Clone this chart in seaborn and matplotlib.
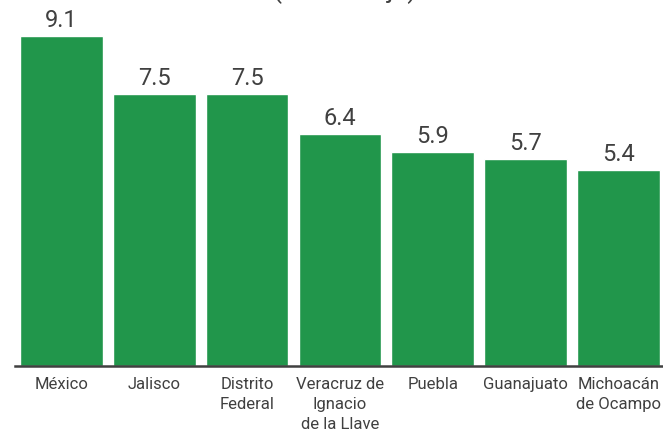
import matplotlib
matplotlib.use("Agg")
import matplotlib.pyplot as plt
import seaborn as sns
import pandas as pd

estados = ["México", "Jalisco", "Distrito\nFederal", "Veracruz de\nIgnacio\nde la Llave",
           "Puebla", "Guanajuato", "Michoacán\nde Ocampo"]
valores = [9.1, 7.5, 7.5, 6.4, 5.9, 5.7, 5.4]
titulo = "(Porcentaje)"

df = pd.DataFrame({"estado": estados, "valor": valores})

sns.set_theme(style="white")
plt.rcParams['font.family'] = ['Roboto', 'DejaVu Sans']

fig = plt.figure(figsize=(6.63, 4.4), dpi=100)
ax = fig.add_axes([15 / 663, 74 / 440, 648 / 663, 366 / 440])

sns.barplot(data=df, x="estado", y="valor", color="#21964b", saturation=1,
            width=0.89, ax=ax)

for i, v in enumerate(valores):
    ax.text(i, v + 0.24, f"{v:.1f}", ha="center", va="baseline",
            fontsize=17, color="#404040")

ax.set_xlim(-0.5, (663 - 61.5) / 92.83)
ax.set_ylim(0, 366 / 36.3)
ax.set_xlabel("")
ax.set_ylabel("")
ax.set_yticks([])
ax.tick_params(axis="x", length=0, pad=8, labelsize=12, labelcolor="#404040")
for lab in ax.get_xticklabels():
    lab.set_linespacing(1.4)
    lab.set_va("top")
for s in ["top", "right", "left"]:
    ax.spines[s].set_visible(False)
ax.spines["bottom"].set_color("#404040")
ax.spines["bottom"].set_linewidth(1.8)

fig.text(0.52, 1 + 2 / 440, titulo, ha="center", va="baseline",
         fontsize=19, color="#404040")

fig.savefig("out.png", dpi=100)
